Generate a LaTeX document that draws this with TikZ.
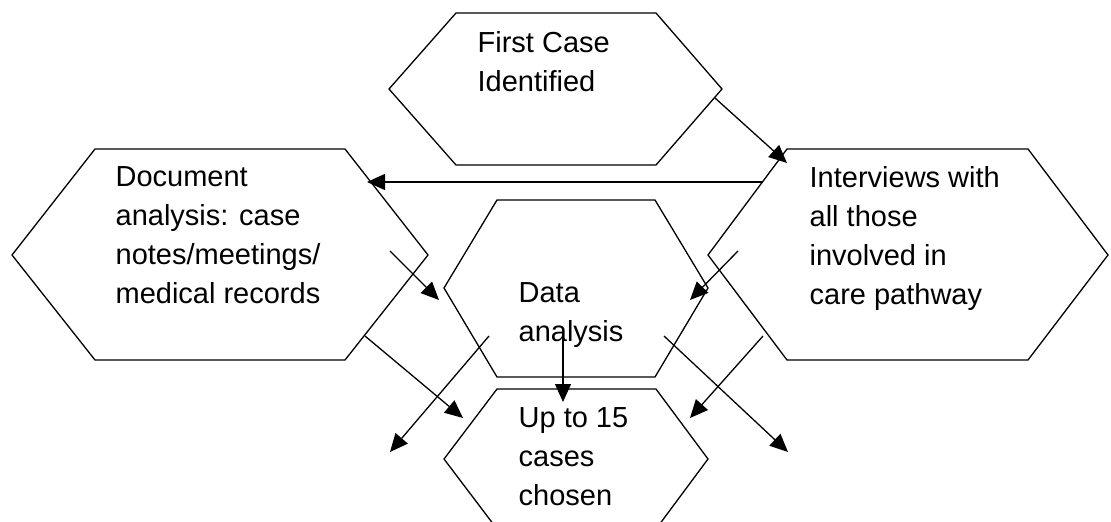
\documentclass[tikz,border=0pt]{standalone}
\usepackage{fontspec}
\setmainfont{Liberation Sans}
\usetikzlibrary{arrows.meta}

\begin{document}
\begin{tikzpicture}
      [x=1pt,y=-1pt,line width=1.3pt,
       every node/.style={anchor=north west,inner sep=0pt,align=left,
         font=\fontsize{29}{39}\selectfont},
       >={Triangle[length=18pt,width=16pt]}]
      \useasboundingbox (0,0) rectangle (1111,522);
      \clip (0,0) rectangle (1111,522);

      % hexagons
      \draw (389,89) -- (456,13) -- (656,13) -- (722,89) -- (656,165) -- (456,165) -- cycle;
      \draw (12,255) -- (95,149) -- (345,149) -- (428,255) -- (345,360) -- (95,360) -- cycle;
      \draw (708,255) -- (787,149) -- (1028,149) -- (1108,255) -- (1028,360) -- (787,360) -- cycle;
      \draw (444,288) -- (497,200) -- (655,200) -- (708,288) -- (655,377) -- (497,377) -- cycle;
      \draw (444,459) -- (497,389) -- (656,389) -- (708,459) -- (656,529) -- (497,529) -- cycle;

      \node (first) at (477,31) {First Case\\Identified};
      \node (docs) at (115,166) {Document\\analysis: case\\notes/meetings/\\medical records};
      \node (inter) at (809,166) {Interviews with\\all those\\involved in\\care pathway};
      \node (data) at (518,282) {Data\\analysis};
      \node (chosen) at (518,407) {Up to 15\\cases\\chosen};

      % arrow ends
      \coordinate (fo) at (715,98);   \coordinate (it) at (787,163);
      \coordinate (io) at (763,182);  \coordinate (dt) at (367,182);
      \coordinate (do) at (390,251);  \coordinate (dl) at (439,300);
      \coordinate (ia) at (738,251);  \coordinate (dr) at (690,300);
      \coordinate (da) at (563,338);  \coordinate (ct) at (563,402);
      \coordinate (d1) at (489,336);  \coordinate (l1) at (390,452);
      \coordinate (d2) at (664,336);  \coordinate (r1) at (788,452);
      \coordinate (db) at (365,336);  \coordinate (cl) at (463,418);
      \coordinate (ib) at (763,336);  \coordinate (cr) at (690,418);

      \foreach \from/\to in {fo/it, io/dt, do/dl, ia/dr, da/ct, d1/l1, d2/r1, db/cl, ib/cr}
      \draw [->] (\from) -- (\to);
    \end{tikzpicture}
\end{document}
